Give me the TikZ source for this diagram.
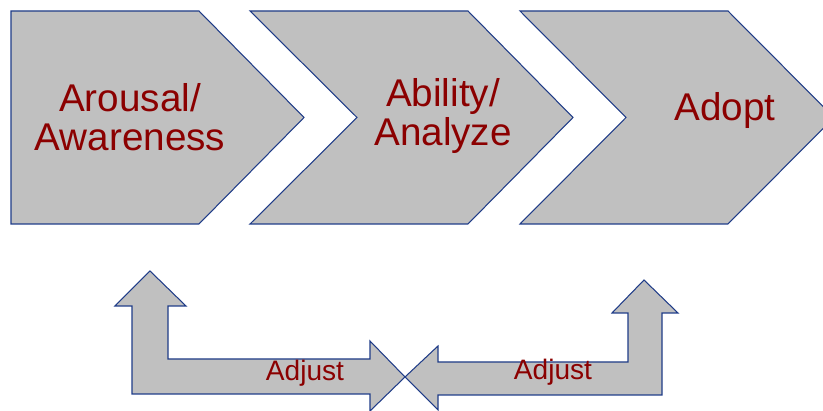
\documentclass[tikz,border=0pt]{standalone}
\usepackage{fontspec}
\setmainfont{Liberation Sans}
\usetikzlibrary{positioning}
\definecolor{chevfill}{HTML}{C0C0C0}
\definecolor{chevline}{HTML}{1F3C88}
\definecolor{labred}{HTML}{8B0000}
\begin{document}
\begin{tikzpicture}[
  x=0.02cm, y=-0.02cm,
  grayblock/.style={draw=chevline, fill=chevfill, line width=0.6pt, line join=miter},
  steptext/.style={text=labred, font=\fontsize{22}{22.5}\selectfont, align=center, inner sep=0pt},
  adjtext/.style={text=labred, font=\fontsize{16}{18}\selectfont, inner sep=0pt}
]
  \useasboundingbox (0,0) rectangle (823,411);

  %% CHEVRONS
  \draw[grayblock] (11,11) -- (199,11) -- (304,117.5) -- (199,224) -- (11,224) -- cycle;
  \draw[grayblock] (250,11) -- (468,11) -- (573,117.5) -- (468,224) -- (250,224) -- (357,117.5) -- cycle;
  \draw[grayblock] (520,11) -- (728,11) -- (834,117.5) -- (728,224) -- (520,224) -- (626,117.5) -- cycle;

  \node[steptext] (arousal) at (130,117) {Arousal/\\Awareness};
  \node[steptext] (ability) at (443,116) {Ability/\\Analyze};
  \node[steptext] (adopt) at (725,111) {Adopt};

  %% FEEDBACK ARROWS
  \draw[grayblock] (150,271) -- (186,306) -- (168,306) -- (168,359) -- (370,359) -- (370,341)
    -- (405,377) -- (370,411) -- (370,394) -- (132,394) -- (132,306) -- (115,306) -- cycle;
  \draw[grayblock] (644,280) -- (678,313) -- (662,313) -- (662,395) -- (438,395) -- (438,410)
    -- (405,377) -- (438,346) -- (438,362) -- (628,362) -- (628,313) -- (612,313) -- cycle;

  \node[adjtext] (adjustl) at (305,373) {Adjust};
  \node[adjtext] (adjustr) at (553,372) {Adjust};

\end{tikzpicture}
\end{document}
